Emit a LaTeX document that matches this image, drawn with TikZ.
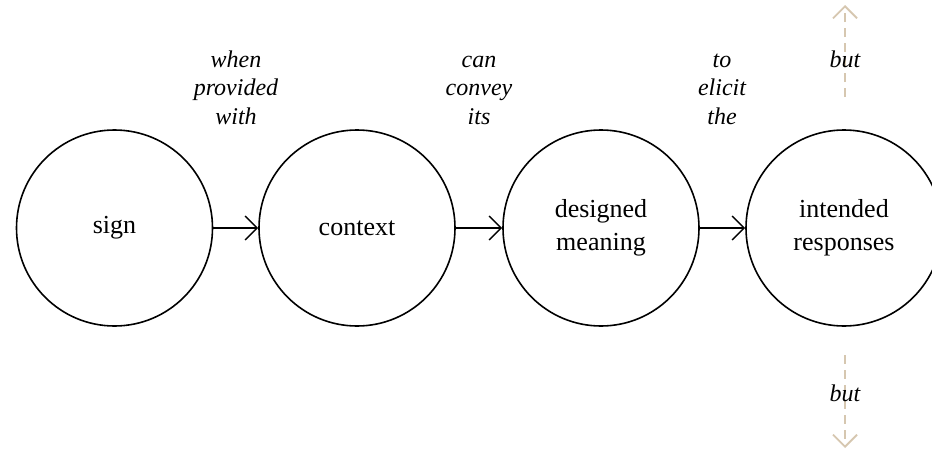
\documentclass[tikz,border=0pt]{standalone}
\usepackage{fontspec}
\setmainfont{Liberation Serif}
\usetikzlibrary{arrows.meta}
\definecolor{tan}{RGB}{214,199,176}
\begin{document}
\begin{tikzpicture}[x=1pt,y=-1pt,
  stage/.style={circle,draw=black,line width=1.6pt,minimum size=196pt,inner sep=0pt,
    align=center,font=\fontsize{26}{33}\selectfont},
  link/.style={line width=1.4pt,-{Straight Barb[length=12pt,width=24pt,line width=1.4pt]}},
  cue/.style={align=center,font=\fontsize{24}{28.5}\selectfont\itshape,anchor=base},
  hint/.style={draw=tan,line width=1.8pt,dash pattern=on 9pt off 6pt,
    -{Straight Barb[length=12pt,width=24pt,line width=1.8pt]}}]
\useasboundingbox (0,0) rectangle (932,455);
\node[stage] (sign) at (114.5,228) {sign};
\node[stage] (ctx) at (357,228) {context};
\node[stage] (mean) at (601,228) {designed\\meaning};
\node[stage] (resp) at (844,228) {intended\\responses};
\draw[link] (sign) -- (ctx);
\draw[link] (ctx) -- (mean);
\draw[link] (mean) -- (resp);
% three-line cues: the base anchor sits on the last line
\node[cue] (c1) at (236,124) {when\\provided\\with};
\node[cue] (c2) at (479,124) {can\\convey\\its};
\node[cue] (c3) at (722,124) {to\\elicit\\the};
\coordinate (upfrom) at (845,97);
\coordinate (upto) at (845,5);
\coordinate (dnfrom) at (845,355);
\coordinate (dnto) at (845,448);
\draw[hint] (upfrom) -- (upto);
\draw[hint] (dnfrom) -- (dnto);
\node[cue] (b1) at (845,67) {but};
\node[cue] (b2) at (845,401) {but};
\end{tikzpicture}
\end{document}
